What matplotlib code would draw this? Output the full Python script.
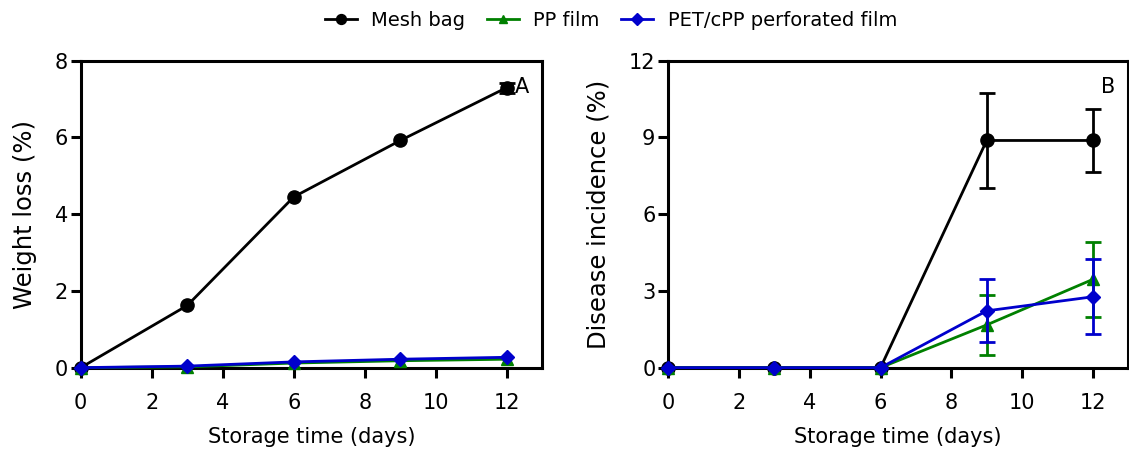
import matplotlib.pyplot as plt
from matplotlib.lines import Line2D

plt.rcParams['font.family'] = ['DejaVu Sans']

days = [0, 3, 6, 9, 12]

# weight loss (%)
wl_mesh = [0, 1.62, 4.45, 5.92, 7.30]
wl_mesh_err = [0, 0, 0, 0, 0.13]
wl_pp = [0, 0.02, 0.12, 0.18, 0.22]
wl_pet = [0, 0.04, 0.15, 0.22, 0.27]

# disease incidence (%)
di_mesh = [0, 0, 0, 8.88, 8.88]
di_mesh_err = [0, 0, 0, 1.87, 1.23]
di_pp = [0, 0, 0, 1.67, 3.45]
di_pp_err = [0, 0, 0, 1.17, 1.46]
di_pet = [0, 0, 0, 2.22, 2.77]
di_pet_err = [0, 0, 0, 1.23, 1.47]

labels = ['Mesh bag', 'PP film', 'PET/cPP perforated film']
colors = ['black', 'green', '#0000cc']
markers = ['o', '^', 'D']
msizes = [9.5, 8.5, 7.5]


def style_axes(ax, ymax, ystep, ylabel, tag):
    ax.set_xlim(0, 13)
    ax.set_ylim(0, ymax)
    ax.set_xticks(range(0, 13, 2))
    ax.set_yticks(range(0, ymax + 1, ystep))
    ax.set_xlabel('Storage time (days)', fontsize=15, labelpad=10)
    ax.set_ylabel(ylabel, fontsize=17.5, labelpad=13)
    ax.tick_params(labelsize=15, width=2.2, length=7.2, direction='out')
    ax.tick_params(axis='x', pad=11)
    ax.tick_params(axis='y', pad=2)
    for s in ax.spines.values():
        s.set_linewidth(2.2)
    ax.text(0.956, 0.915, tag, transform=ax.transAxes, fontsize=15,
            ha='center', va='center')


def draw(ax, y, err, c, m, ms, first):
    ax.plot(days, y, color=c, marker=m, markersize=ms, linewidth=2,
            clip_on=False, zorder=3)
    # error bars only where the standard error is shown
    if err is not None:
        ax.errorbar(days, y, yerr=err, fmt='none', ecolor=c, capsize=5.5,
                    capthick=2, elinewidth=2, errorevery=(first, 1),
                    clip_on=False, zorder=3)


fig = plt.figure(figsize=(11.29, 4.5), dpi=100)
ax1 = fig.add_axes([0.0715, 0.183, 0.4089, 0.6822])
ax2 = fig.add_axes([0.5919, 0.183, 0.4074, 0.6822])

for y, e, c, m, ms in zip([wl_mesh, wl_pp, wl_pet],
                          [wl_mesh_err, None, None],
                          colors, markers, msizes):
    draw(ax1, y, e, c, m, ms, 4)

for y, e, c, m, ms in zip([di_mesh, di_pp, di_pet],
                          [di_mesh_err, di_pp_err, di_pet_err],
                          colors, markers, msizes):
    draw(ax2, y, e, c, m, ms, 3)

style_axes(ax1, 8, 2, 'Weight loss (%)', 'A')
style_axes(ax2, 12, 3, 'Disease incidence (%)', 'B')

handles = [Line2D([], [], color=c, marker=m, markersize=ms * 0.75, linewidth=2)
           for c, m, ms in zip(colors, markers, msizes)]
fig.legend(handles=handles, labels=labels, loc='center left',
           bbox_to_anchor=(0.272, 0.955), ncol=3, frameon=False, fontsize=14,
           handlelength=1.65, columnspacing=1.1, handletextpad=0.75)

fig.savefig('out.png', dpi=100)
